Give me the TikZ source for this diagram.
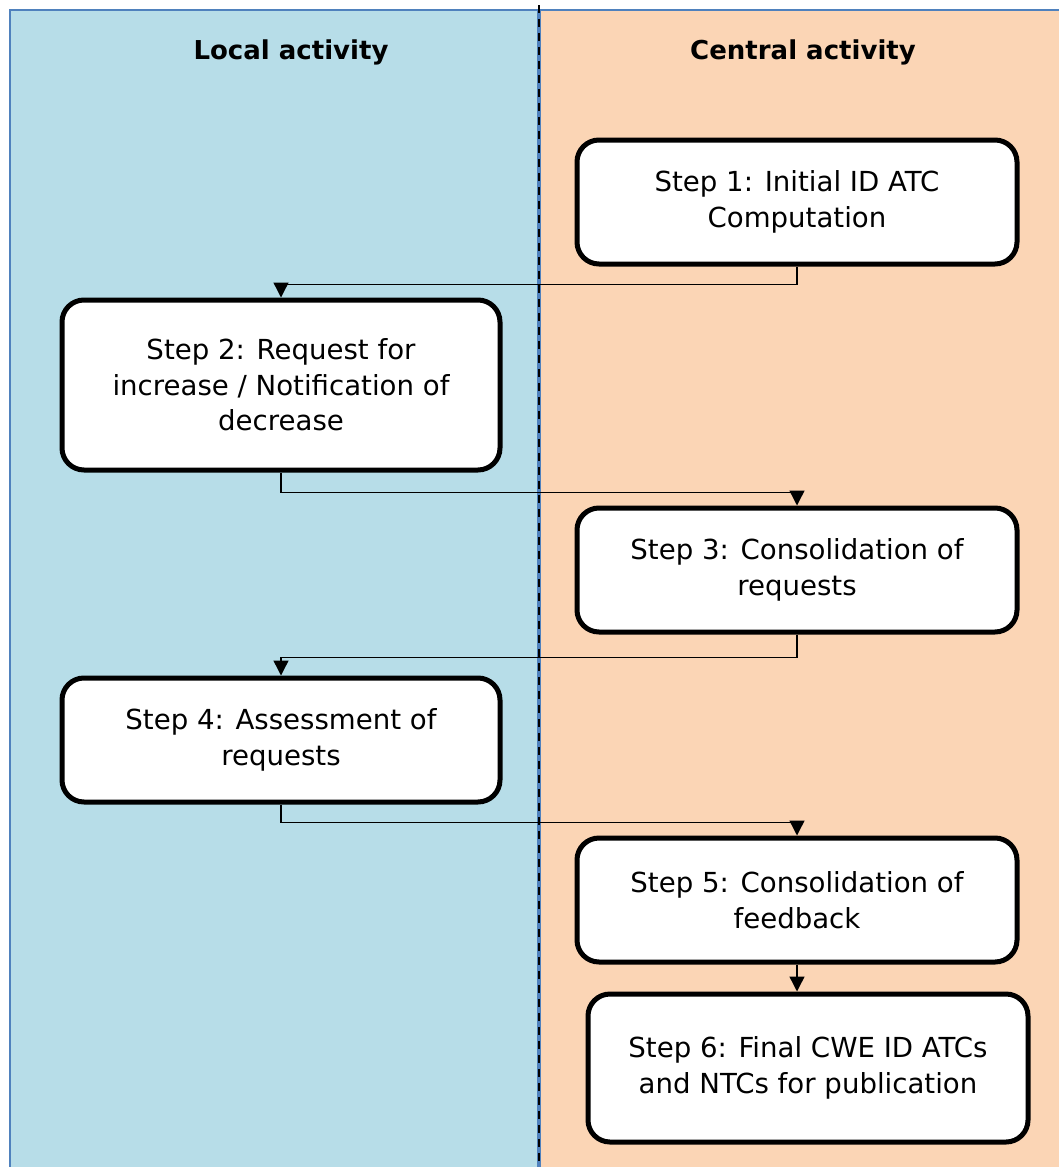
\documentclass[tikz,border=0pt]{standalone}
\usepackage{fontspec}
\setmainfont{DejaVu Sans}
\usetikzlibrary{arrows.meta}
\definecolor{lanelocal}{HTML}{B7DDE8}
\definecolor{lanecentral}{HTML}{FBD5B5}
\definecolor{laneborder}{HTML}{4F81BD}
\tikzset{
  stepbox/.style={draw=black, line width=5pt, fill=white, rounded corners=22pt,
    align=center, inner sep=0pt, font=\fontsize{27.6}{35.5}\selectfont},
  conn/.style={draw=black, line width=1.4pt, -{Triangle[length=15pt,width=15pt]}},
  lanetitle/.style={font=\fontsize{26}{32}\selectfont\bfseries}
}
\begin{document}
\begin{tikzpicture}[x=1pt,y=-1pt]
\useasboundingbox (0,0) rectangle (1058,1167);
\fill[white] (0,0) rectangle (1058,1167);
% lanes
\draw[fill=lanelocal, draw=laneborder, line width=2pt] (10,10) rectangle (538,1180);
\draw[fill=lanecentral, draw=laneborder, line width=2pt] (540,10) rectangle (1070,1180);
\draw[black, line width=2pt, dash pattern=on 8pt off 6pt] (539,5) -- (539,1167);
% titles
\node[lanetitle] (tl) at (291,52) {Local activity};
\node[lanetitle] (tc) at (803,52) {Central activity};
% steps
\node[stepbox, minimum width=440pt, minimum height=124pt] (s1) at (797,202) {Step 1: Initial ID ATC\\Computation};
\node[stepbox, minimum width=438pt, minimum height=170pt] (s2) at (281,385) {Step 2: Request for\\increase / Notification of\\decrease};
\node[stepbox, minimum width=440pt, minimum height=124pt] (s3) at (797,570) {Step 3: Consolidation of\\requests};
\node[stepbox, minimum width=438pt, minimum height=124pt] (s4) at (281,740) {Step 4: Assessment of\\requests};
\node[stepbox, minimum width=440pt, minimum height=124pt] (s5) at (797,900) {Step 5: Consolidation of\\feedback};
\node[stepbox, minimum width=440pt, minimum height=148pt] (s6) at (808,1068) {Step 6: Final CWE ID ATCs\\and NTCs for publication};
% connectors
\draw[conn] (s1.south) -- ++(0,18) -| (s2.north);
\draw[conn] (s2.south) -- ++(0,20) -| (s3.north);
\draw[conn] (s3.south) -- ++(0,23) -| (s4.north);
\draw[conn] (s4.south) -- ++(0,18) -| (s5.north);
\draw[conn] (s5.south) -- (s5.south |- s6.north);
\end{tikzpicture}
\end{document}
